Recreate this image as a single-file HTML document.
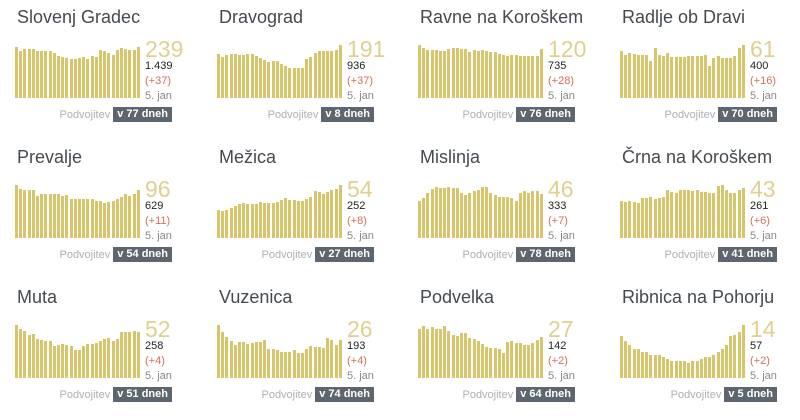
<!DOCTYPE html>
<html><head><meta charset="utf-8"><style>
body{margin:0;width:800px;height:412px;background:#fff;font-family:"Liberation Sans",sans-serif;position:relative;overflow:hidden}
.c{position:absolute;width:200px;height:140px}
.t{position:absolute;left:2px;top:7px;font-size:18px;color:#444a50}
.ch{position:absolute;left:0;top:45px;width:126px;height:53px}
.ch div{position:absolute;bottom:0;width:3px;background:#d6c56a}
.big{position:absolute;left:130px;top:36px;font-size:23px;color:#e0d08f}
.n{position:absolute;left:130px;font-size:11px}
.f{position:absolute;right:43px;top:107px;height:15px;display:flex;align-items:center;font-size:11px;color:#aab0b5;white-space:nowrap}
.b{height:15px;background:#5d666e;color:#fff;font-weight:bold;font-size:11px;line-height:15px;padding:0 4px;margin-left:3px}
</style></head><body>
<script>
var D=[
["Slovenj Gradec",15,0,"239","1.439","+37","77",[.97,.88,.93,.93,.93,.88,.88,.88,.88,.84,.8,.78,.75,.74,.74,.76,.78,.74,.8,.78,.9,.88,.85,.82,.9,.95,.93,.9,.9,.97]],
["Dravograd",217,0,"191","936","+37","8",[.83,.77,.81,.83,.83,.82,.82,.83,.83,.8,.76,.72,.68,.69,.69,.65,.6,.57,.57,.57,.57,.74,.78,.84,.88,.88,.88,.88,.9,1]],
["Ravne na Koroškem",418,0,"120","735","+28","76",[1,.95,.9,.9,.91,.89,.89,.92,.95,.94,.93,.92,.86,.9,.89,.91,.88,.86,.86,.83,.82,.8,.81,.82,.8,.8,.8,.79,.79,.92]],
["Radlje ob Dravi",620,0,"61","400","+16","70",[.88,.82,.84,.83,.82,.82,.82,.7,.95,.82,.8,.84,.78,.78,.78,.78,.8,.8,.8,.8,.82,.6,.76,.8,.76,.76,.76,.8,.95,1]],
["Prevalje",15,140,"96","629","+11","54",[1,.92,.9,.9,.9,.8,.83,.83,.83,.83,.83,.8,.82,.73,.73,.73,.73,.73,.73,.7,.7,.66,.68,.7,.73,.78,.83,.8,.83,.9]],
["Mežica",217,140,"54","252","+8","27",[.53,.51,.53,.57,.6,.64,.66,.65,.64,.65,.68,.66,.66,.66,.68,.71,.76,.72,.72,.7,.7,.73,.78,.88,.87,.83,.87,.9,.93,1]],
["Mislinja",418,140,"46","333","+7","78",[.7,.75,.84,.92,.97,.94,.95,.97,.95,.95,.84,.82,.84,.89,.9,.97,.96,.84,.82,.77,.78,.77,.75,.7,.84,.88,.84,.88,.88,.83]],
["Črna na Koroškem",620,140,"43","261","+6","41",[.7,.68,.7,.68,.67,.75,.75,.78,.74,.76,.77,.9,.87,.84,.9,.9,.9,.89,.9,.86,.86,.84,.84,.98,1,.9,.84,.84,.9,.95]],
["Muta",15,280,"52","258","+4","51",[1,.92,.89,.82,.83,.73,.72,.69,.7,.6,.62,.64,.62,.6,.52,.52,.6,.64,.64,.66,.7,.73,.75,.7,.74,.86,.86,.86,.88,.87]],
["Vuzenica",217,280,"26","193","+4","74",[1,.86,.78,.69,.62,.68,.68,.65,.67,.68,.68,.72,.54,.55,.52,.5,.5,.5,.52,.48,.48,.54,.6,.58,.58,.57,.75,.72,.63,.72]],
["Podvelka",418,280,"27","142","+2","64",[.93,.98,.92,.96,.93,.93,.98,.88,.82,.8,.84,.84,.76,.74,.7,.65,.58,.56,.57,.55,.47,.68,.7,.66,.66,.63,.63,.66,.72,.77]],
["Ribnica na Pohorju",620,280,"14","57","+2","5",[.79,.7,.63,.55,.55,.5,.5,.44,.44,.44,.4,.36,.33,.33,.33,.33,.29,.33,.33,.36,.4,.4,.44,.5,.55,.63,.79,.82,.86,1]]];
D.forEach(function(d){
var h='<div class="c" style="left:'+d[1]+'px;top:'+d[2]+'px"><div class="t">'+d[0]+'</div><div class="ch">';
d[7].forEach(function(v,i){h+='<div style="left:'+(i*4.2)+'px;height:'+(v*53)+'px"></div>'});
h+='</div><div class="big">'+d[3]+'</div><div class="n" style="top:60px;color:#222">'+d[4]+'</div><div class="n" style="top:75px;color:#d2705a">('+d[5]+')</div><div class="n" style="top:90px;color:#888">5. jan</div><div class="f">Podvojitev<span class="b">v '+d[6]+' dneh</span></div></div>';
document.write(h);});
</script>
</body></html>
